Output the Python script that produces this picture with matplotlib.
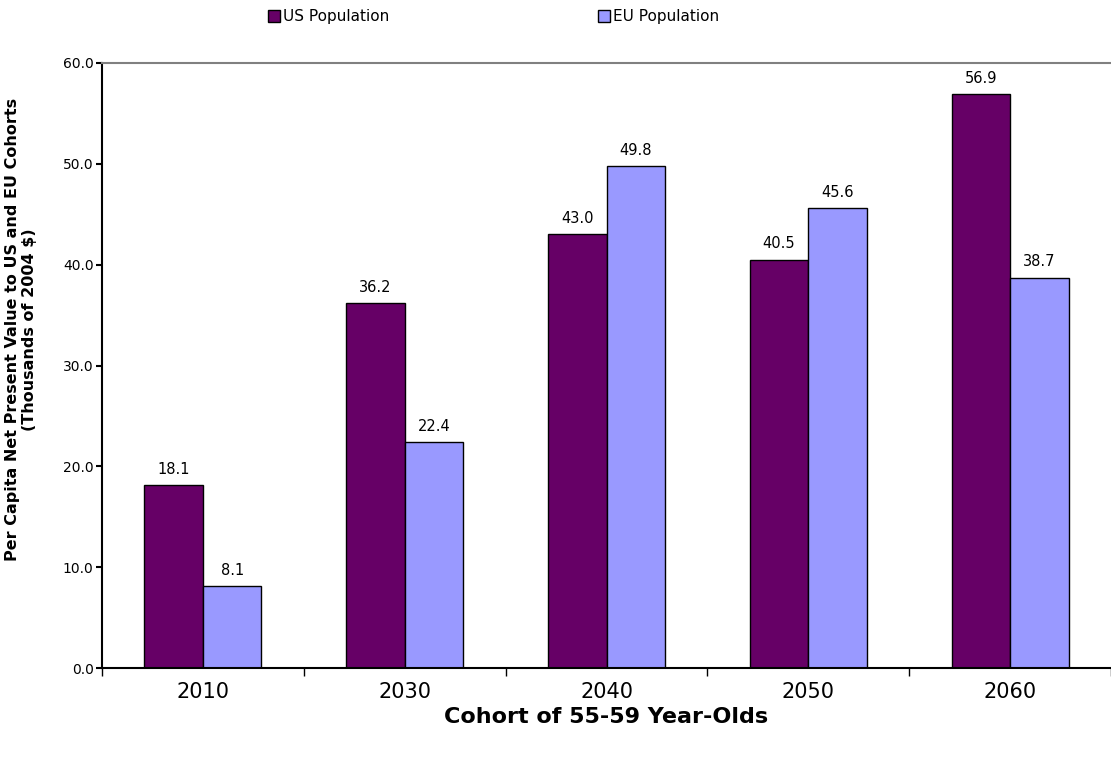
import numpy as np
from matplotlib import pyplot as plt

plt.rcParams['font.family'] = ['DejaVu Sans']

years = ["2010", "2030", "2040", "2050", "2060"]
us_vals = [18.1, 36.2, 43.0, 40.5, 56.9]
eu_vals = [8.1, 22.4, 49.8, 45.6, 38.7]

us_color = "#660066"
eu_color = "#9999FF"

fig = plt.figure(figsize=(11.11, 7.58), dpi=100)
ax = fig.add_axes([102/1111, 90/758, 1.0 - 102/1111, 605/758])

x = np.arange(len(years))
w = 0.29
b1 = ax.bar(x - w/2, us_vals, w, color=us_color, edgecolor="black", linewidth=1.0, label="US Population")
b2 = ax.bar(x + w/2, eu_vals, w, color=eu_color, edgecolor="black", linewidth=1.0, label="EU Population")

# value labels above each bar
for bars, vals in ((b1, us_vals), (b2, eu_vals)):
    for r, v in zip(bars, vals):
        ax.annotate("{:.1f}".format(v), (r.get_x() + r.get_width()/2, v),
                    xytext=(0, 6), textcoords="offset points",
                    ha="center", va="bottom", fontsize=10.5)

ax.set_xlim(-0.5, 4.47)
ax.set_ylim(0, 60)
yt = np.arange(0, 61, 10)
ax.set_yticks(yt)
ax.set_yticklabels(["{:.1f}".format(t) for t in yt], fontsize=10)

ax.set_xticks(x)
ax.set_xticklabels(years, fontsize=15)
ax.set_xticks(np.arange(-0.5, 5, 1), minor=True)
ax.tick_params(axis="x", which="major", length=0, pad=10)
ax.tick_params(axis="x", which="minor", length=6, width=1, direction="out")
ax.tick_params(axis="y", length=4, width=1.5, direction="out", pad=2)

ax.spines["right"].set_visible(False)
ax.spines["top"].set_color("#808080")
ax.spines["top"].set_linewidth(1.5)
ax.spines["left"].set_linewidth(1.5)
ax.spines["bottom"].set_linewidth(1.5)

ax.set_xlabel("Cohort of 55-59 Year-Olds", fontsize=16, fontweight="bold", labelpad=4)
ax.set_ylabel("Per Capita Net Present Value to US and EU Cohorts\n(Thousands of 2004 $)",
              fontsize=11.5, fontweight="bold")
ax.yaxis.set_label_coords(-0.064, 0.56)

# two legend entries placed separately, like the Excel legend
for h, xpos in ((b1, 268), (b2, 598)):
    fig.legend(handles=[h], loc="center left", bbox_to_anchor=(xpos/1111, 1 - 17/758),
               frameon=False, fontsize=11, handlelength=0.8, handleheight=0.8,
               handletextpad=0.2, borderpad=0, borderaxespad=0)

fig.savefig("out.png", dpi=100)
